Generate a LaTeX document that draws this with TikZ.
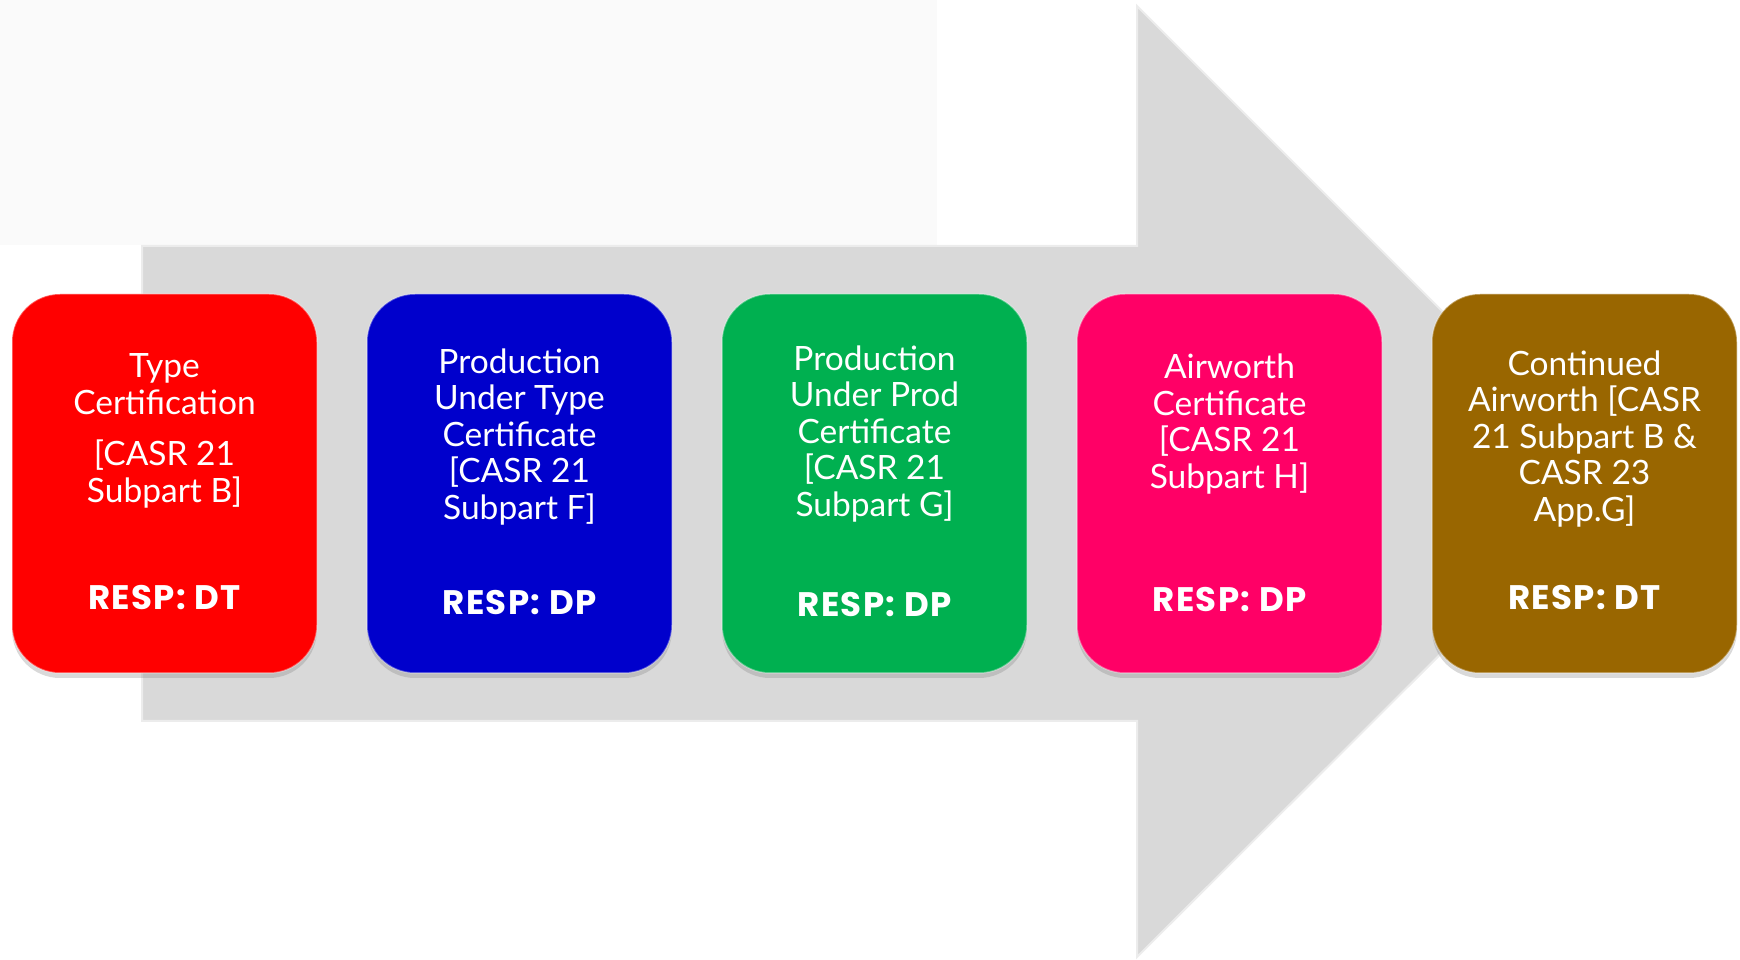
\documentclass[tikz,border=0pt]{standalone}
\usepackage{fontspec}
\setmainfont{Lato}
\newfontfamily\respfont{Poppins}[LetterSpace=4]
\usetikzlibrary{shadows}
\definecolor{arrowgray}{HTML}{D9D9D9}
\definecolor{backhaze}{HTML}{FAFAFA}
\definecolor{tcred}{HTML}{FF0000}
\definecolor{putblue}{HTML}{0000CC}
\definecolor{ppcgreen}{HTML}{00B050}
\definecolor{awpink}{HTML}{FF0066}
\definecolor{cabrown}{HTML}{996600}

\begin{document}
\begin{tikzpicture}[x=1pt,y=1pt,stage/.style={rounded corners=48pt, minimum width=305pt, minimum height=379pt, inner sep=0pt, draw=white, draw opacity=0.35, line width=1.5pt, drop shadow={shadow xshift=0pt, shadow yshift=-5pt, opacity=0.3}},stagetext/.style={anchor=base, align=center, text=white, inner sep=0pt, font=\fontsize{33.5}{36.5}\selectfont},resp/.style={anchor=base, text=white, inner sep=0pt, font=\respfont\bfseries\fontsize{34}{36}\selectfont}]
	
	\useasboundingbox (0,0) rectangle (1740,959);
	\fill[backhaze] (0,714) rectangle (937,959);
	\draw[fill=arrowgray, draw=arrowgray!50!white, line width=2pt] (142,713) -- (1137,713) -- (1137,953) -- (1613,477) -- (1137,2) -- (1137,238) -- (142,238) -- cycle;
	
	\node[stage, fill=tcred] (tc) at (164.5,475.5) {};
	\node[stage, fill=putblue] (put) at (519.5,475.5) {};
	\node[stage, fill=ppcgreen] (ppc) at (874.5,475.5) {};
	\node[stage, fill=awpink] (aw) at (1229.5,475.5) {};
	\node[stage, fill=cabrown] (ca) at (1584.5,475.5) {};
	
	\node[stagetext] (tctext) at ([yshift=-209pt]tc.north) {Type\\Certification\\[15pt]{[}CASR 21\\Subpart B]};
	\node[stagetext] (puttext) at ([yshift=-226pt]put.north) {Production\\Under Type\\Certificate\\{[}CASR 21\\Subpart F]};
	\node[stagetext] (ppctext) at ([yshift=-223pt]ppc.north) {Production\\Under Prod\\Certificate\\{[}CASR 21\\Subpart G]};
	\node[stagetext] (awtext) at ([yshift=-195pt]aw.north) {Airworth\\Certificate\\{[}CASR 21\\Subpart H]};
	\node[stagetext] (catext) at ([yshift=-228pt]ca.north) {Continued\\Airworth [CASR\\21 Subpart B \&\\CASR 23\\App.G]};
	
	\node[resp] (tcresp) at ([yshift=-316pt]tc.north) {RESP: DT};
	\node[resp] (putresp) at ([yshift=-321pt]put.north) {RESP: DP};
	\node[resp] (ppcresp) at ([yshift=-323pt]ppc.north) {RESP: DP};
	\node[resp] (awresp) at ([yshift=-318pt]aw.north) {RESP: DP};
	\node[resp] (caresp) at ([yshift=-316pt]ca.north) {RESP: DT};
	
\end{tikzpicture}
\end{document}
